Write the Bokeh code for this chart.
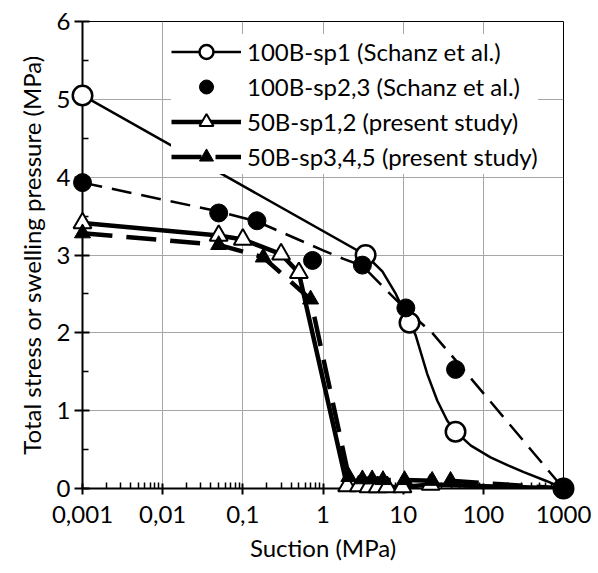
from bokeh.plotting import figure
from bokeh.models import FixedTicker, Legend, LegendItem
from bokeh.embed import file_html
from bokeh.resources import INLINE

FONT = "Lato"
FS = "24px"

# ---- axis ticks ----
x_ticks = [0.001, 0.01, 0.1, 1, 10, 100, 1000]
x_tick_labels = ["0,001", "0,01", "0,1", "1", "10", "100", "1000"]
x_minor_mult = [2, 3, 4, 5, 6, 7, 8, 9]
y_ticks = [0, 1, 2, 3, 4, 5, 6]
y_minor_ticks = [0.5, 1.5, 2.5, 3.5, 4.5, 5.5]

# ---- 100B-sp1 (Schanz et al.) : open circles + smoothed solid line ----
sp1_x = [0.001, 3.4, 12, 45, 1000]
sp1_y = [5.05, 3.0, 2.13, 0.73, 0.0]
sp1_curve_x = [0.001, 3.4, 5.5, 8.1, 12, 14.3, 20, 26.6, 35.5, 45, 70, 123, 200, 320, 600, 1000]
sp1_curve_y = [5.05, 3.0, 2.79, 2.5, 2.13, 1.97, 1.47, 1.13, 0.87, 0.73, 0.55, 0.40, 0.30, 0.21, 0.10, 0.0]

# ---- 100B-sp2,3 (Schanz et al.) : filled circles + dashed trend ----
sp23_x = [0.001, 0.05, 0.15, 0.74, 3.1, 10.8, 45, 1000]
sp23_y = [3.93, 3.54, 3.44, 2.93, 2.87, 2.32, 1.53, 0.0]
sp23_fit_x = [0.001, 0.05, 0.15, 1.0, 1.8, 3.1, 5.5, 10.8, 23, 45, 1000]
sp23_fit_y = [3.93, 3.56, 3.43, 3.06, 2.95, 2.86, 2.6, 2.3, 2.0, 1.65, 0.0]

# ---- 50B-sp1,2 (present study) : open triangles ----
b50_12_x = [0.001, 0.05, 0.1, 0.3, 0.5, 2.0, 2.8, 3.7, 4.8, 6.3, 9.8, 22, 1000]
b50_12_y = [3.41, 3.25, 3.2, 3.01, 2.77, 0.03, 0.03, 0.02, 0.02, 0.02, 0.02, 0.05, 0.0]

# ---- 50B-sp3,4,5 (present study) : filled triangles ----
b50_345_x = [0.001, 0.05, 0.18, 0.7, 2.1, 3.1, 4.1, 5.6, 10.4, 23, 39, 1000]
b50_345_y = [3.28, 3.13, 2.97, 2.43, 0.15, 0.12, 0.12, 0.11, 0.11, 0.10, 0.10, 0.0]

x_minor = [m * t for t in x_ticks[:-1] for m in x_minor_mult]

p = figure(width=596, height=571, x_axis_type="log", x_range=(0.001, 1000), y_range=(0, 6),
           output_backend="svg", toolbar_location=None,
           min_border_left=82, min_border_right=33, min_border_top=21, min_border_bottom=83,
           x_axis_label="Suction (MPa)", y_axis_label="Total stress or swelling pressure (MPa)")

p.background_fill_color = "white"
p.border_fill_color = "white"
p.outline_line_color = "black"
p.outline_line_width = 1

xa = p.xaxis[0]
ya = p.yaxis[0]
xa.ticker = FixedTicker(ticks=x_ticks, minor_ticks=x_minor)
xa.major_label_overrides = dict(zip(x_ticks, x_tick_labels))
ya.ticker = FixedTicker(ticks=y_ticks, minor_ticks=y_minor_ticks)

for ax in (xa, ya):
    ax.axis_line_width = 2
    ax.axis_line_color = "black"
    ax.major_tick_line_width = 2
    ax.major_tick_line_color = "black"
    ax.minor_tick_line_width = 1.5
    ax.minor_tick_line_color = "black"
    ax.major_label_text_font = FONT
    ax.major_label_text_font_size = FS
    ax.major_label_text_color = "black"
    ax.axis_label_text_font = FONT
    ax.axis_label_text_font_size = FS
    ax.axis_label_text_font_style = "normal"
    ax.axis_label_text_color = "black"

xa.major_tick_in = 5
xa.major_tick_out = 6
xa.minor_tick_in = 6
xa.minor_tick_out = 0
xa.major_label_standoff = 11
xa.axis_label_standoff = 7

ya.major_tick_in = 7
ya.major_tick_out = 8
ya.minor_tick_in = 6
ya.minor_tick_out = 0
ya.major_label_standoff = 4
ya.axis_label_standoff = 8

p.xgrid.ticker = FixedTicker(ticks=x_ticks)
p.ygrid.ticker = FixedTicker(ticks=y_ticks)
for g in (p.xgrid[0], p.ygrid[0]):
    g.grid_line_color = "#a6a6a6"
    g.grid_line_width = 1

# lines
trend = p.line(sp23_fit_x, sp23_fit_y, line_color="black", line_width=2.5, line_dash="20 10")
l1 = p.line(sp1_curve_x, sp1_curve_y, line_color="black", line_width=2.5)
l3 = p.line(b50_12_x, b50_12_y, line_color="black", line_width=4.5)
l4 = p.line(b50_345_x, b50_345_y, line_color="black", line_width=4.5, line_dash="30 14")

# markers (drawn unclipped, above the axes, as in the original)
m3 = p.scatter(b50_12_x, b50_12_y, marker="triangle", size=18, fill_color="white",
               line_color="black", line_width=2, level="overlay")
m4 = p.scatter(b50_345_x, b50_345_y, marker="triangle", size=16, fill_color="black",
               line_color="black", line_width=1, level="overlay")
m1 = p.scatter(sp1_x, sp1_y, marker="circle", size=19.5, fill_color="white",
               line_color="black", line_width=2.5, level="overlay")
m2 = p.scatter(sp23_x, sp23_y, marker="circle", size=18, fill_color="black",
               line_color="black", line_width=1, level="overlay")

legend = Legend(items=[
    LegendItem(label="100B-sp1 (Schanz et al.)", renderers=[l1, m1]),
    LegendItem(label="100B-sp2,3 (Schanz et al.)", renderers=[m2]),
    LegendItem(label="50B-sp1,2 (present study)", renderers=[l3, m3]),
    LegendItem(label="50B-sp3,4,5 (present study)", renderers=[l4, m4]),
], location=(89, 314))
legend.glyph_width = 70
legend.glyph_height = 35
legend.label_height = 35
legend.spacing = 0
legend.padding = 4
legend.margin = 0
legend.label_standoff = 6
legend.border_line_color = None
legend.background_fill_color = "white"
legend.background_fill_alpha = 1
legend.label_text_font = FONT
legend.label_text_font_size = FS
legend.label_text_color = "black"
p.add_layout(legend)

open("out.html", "w").write(file_html(p, INLINE))
